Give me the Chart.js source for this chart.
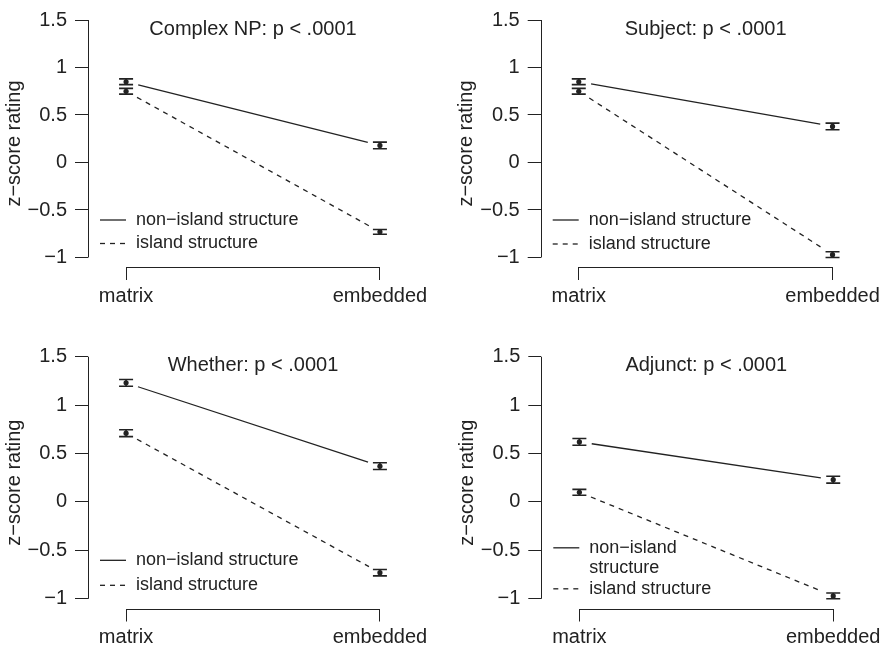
<!DOCTYPE html>
<html>
<head>
<meta charset="utf-8">
<script src="https://cdn.jsdelivr.net/npm/chart.js@4.4.1/dist/chart.umd.min.js"></script>
<style>
  html, body { margin: 0; padding: 0; background: #fff; width: 887px; height: 649px; overflow: hidden; }
  .panel { position: absolute; }
</style>
</head>
<body>
<div class="panel" style="left:0;top:0"><canvas id="c0" width="443" height="320"></canvas></div>
<div class="panel" style="left:444px;top:0"><canvas id="c1" width="443" height="320"></canvas></div>
<div class="panel" style="left:0;top:320px"><canvas id="c2" width="443" height="329"></canvas></div>
<div class="panel" style="left:444px;top:320px"><canvas id="c3" width="443" height="329"></canvas></div>
<script>
// data
const categories = ['matrix', 'embedded'];
const categoryX = [1, 2];
const yTicks = [-1, -0.5, 0, 0.5, 1, 1.5];
const panelTitles = ['Complex NP: p < .0001', 'Subject: p < .0001', 'Whether: p < .0001', 'Adjunct: p < .0001'];
const seriesLabels = ['non\u2212island structure', 'island structure'];

// one pair [matrix, embedded] per panel
const nonIsland   = [[0.85, 0.18], [0.85, 0.38], [1.23, 0.37], [0.62, 0.23]];
const nonIslandSE = [[0.03, 0.035], [0.03, 0.035], [0.035, 0.035], [0.035, 0.035]];
const island      = [[0.75, -0.73], [0.75, -0.97], [0.71, -0.73], [0.10, -0.97]];
const islandSE    = [[0.03, 0.025], [0.03, 0.03], [0.035, 0.033], [0.03, 0.03]];

// the last panel wraps the first legend entry
const legendText = [
  [['non\u2212island structure'], ['island structure']],
  [['non\u2212island structure'], ['island structure']],
  [['non\u2212island structure'], ['island structure']],
  [['non\u2212island', 'structure'], ['island structure']]
];

const ink = '#222';
const fontFamily = '"Liberation Sans", Arial, Helvetica, sans-serif';
Chart.defaults.font.family = fontFamily;
Chart.defaults.font.size = 20;
Chart.defaults.color = ink;

// where each plot region sits inside its canvas
const boxes = [
  { padLeft: 0,   top: 15,   bottom: 267,   right: 418,   legendRows: [-37.5, -14] },
  { padLeft: 8.7, top: 15,   bottom: 267,   right: 426.6, legendRows: [-37.5, -13.5] },
  { padLeft: 0,   top: 36.7, bottom: 288.5, right: 418,   legendRows: [-38.5, -13.5] },
  { padLeft: 9.3, top: 36.7, bottom: 288.5, right: 427.3, legendRows: [-51, -10] }
];

const minus = v => String(v).replace('-', '\u2212');

const rStyle = {
  id: 'rStyle',
  beforeDatasetsDraw(chart, args, opts) {
    const { ctx, scales: { x, y } } = chart;
    ctx.save();
    ctx.strokeStyle = ink;
    chart.data.datasets.forEach((ds, di) => {
      // error bars
      ctx.setLineDash([]);
      ctx.lineWidth = 1.6;
      ds.data.forEach(p => {
        const px = x.getPixelForValue(p.x);
        const lo = y.getPixelForValue(p.y - p.se);
        const hi = y.getPixelForValue(p.y + p.se);
        ctx.beginPath();
        ctx.moveTo(px, lo); ctx.lineTo(px, hi);
        ctx.moveTo(px - 7, lo); ctx.lineTo(px + 7, lo);
        ctx.moveTo(px - 7, hi); ctx.lineTo(px + 7, hi);
        ctx.stroke();
      });
      // connecting line with a gap at each point, like type = "b"
      const pts = chart.getDatasetMeta(di).data;
      const gap = 12.5;
      ctx.lineWidth = 1.3;
      ctx.setLineDash(ds.borderDash || []);
      for (let i = 0; i < pts.length - 1; i++) {
        const a = pts[i], b = pts[i + 1];
        const len = Math.hypot(b.x - a.x, b.y - a.y);
        const ux = (b.x - a.x) / len, uy = (b.y - a.y) / len;
        ctx.beginPath();
        ctx.moveTo(a.x + ux * gap, a.y + uy * gap);
        ctx.lineTo(b.x - ux * gap, b.y - uy * gap);
        ctx.stroke();
      }
    });
    ctx.restore();
  },
  afterDraw(chart, args, opts) {
    const { ctx, chartArea, scales: { x, y } } = chart;
    ctx.save();
    ctx.strokeStyle = ink;
    ctx.fillStyle = ink;
    ctx.lineWidth = 1;
    ctx.setLineDash([]);

    // detached axis lines
    const ax = Math.round(chartArea.left) + 0.5;
    const ay = Math.round(chartArea.bottom) + 0.5;
    ctx.beginPath();
    ctx.moveTo(ax, y.getPixelForValue(yTicks[0]));
    ctx.lineTo(ax, y.getPixelForValue(yTicks[yTicks.length - 1]));
    ctx.moveTo(x.getPixelForValue(categoryX[0]), ay);
    ctx.lineTo(x.getPixelForValue(categoryX[categoryX.length - 1]), ay);
    ctx.stroke();

    // panel title
    ctx.font = '20px ' + fontFamily;
    ctx.textAlign = 'center';
    ctx.textBaseline = 'alphabetic';
    const cx = (x.getPixelForValue(categoryX[0]) + x.getPixelForValue(categoryX[1])) / 2;
    ctx.fillText(opts.title, cx, y.getPixelForValue(1.5) + 14.5);

    // legend, bottom left
    ctx.font = '18px ' + fontFamily;
    ctx.textAlign = 'left';
    ctx.textBaseline = 'middle';
    const base = y.getPixelForValue(-1);
    chart.data.datasets.forEach((ds, di) => {
      const rowY = base + opts.legendRows[di];
      ctx.lineWidth = 1.3;
      ctx.setLineDash(ds.borderDash || []);
      ctx.beginPath();
      ctx.moveTo(chartArea.left + 12, rowY);
      ctx.lineTo(chartArea.left + 38, rowY);
      ctx.stroke();
      opts.legend[di].forEach((line, k) => {
        ctx.fillText(line, chartArea.left + 48, rowY + k * 20);
      });
    });
    ctx.restore();
  }
};

function series(values, errs) {
  return categoryX.map((cx, i) => ({ x: cx, y: values[i], se: errs[i] }));
}

boxes.forEach((box, i) => {
  const canvas = document.getElementById('c' + i);
  new Chart(canvas, {
    type: 'line',
    data: {
      datasets: [
        { label: seriesLabels[0], data: series(nonIsland[i], nonIslandSE[i]), borderDash: [] },
        { label: seriesLabels[1], data: series(island[i], islandSE[i]), borderDash: [5, 5] }
      ]
    },
    options: {
      responsive: false,
      animation: false,
      devicePixelRatio: 1,
      showLine: false,
      elements: {
        point: { radius: 2.6, backgroundColor: ink, borderWidth: 0 }
      },
      layout: {
        padding: { left: box.padLeft, top: box.top, right: canvas.width - box.right, bottom: 0 }
      },
      plugins: {
        legend: { display: false },
        tooltip: { enabled: false },
        rStyle: { title: panelTitles[i], legend: legendText[i], legendRows: box.legendRows }
      },
      scales: {
        x: {
          type: 'linear',
          bounds: 'data',
          min: 0.85,
          max: 2.15,
          afterBuildTicks: s => { s.ticks = categoryX.map(v => ({ value: v })); },
          afterFit: s => { s.height = canvas.height - box.bottom; },
          grid: { drawOnChartArea: false, tickLength: 13, color: ink, lineWidth: 1 },
          border: { display: false },
          ticks: {
            padding: 4,
            maxRotation: 0,
            autoSkip: false,
            color: ink,
            font: { size: 20 },
            callback: v => categories[categoryX.indexOf(v)]
          }
        },
        y: {
          type: 'linear',
          bounds: 'data',
          min: -1.1,
          max: 1.5,
          afterBuildTicks: s => { s.ticks = yTicks.map(v => ({ value: v })); },
          afterFit: s => { s.width = 88; },
          grid: { drawOnChartArea: false, tickLength: 13, color: ink, lineWidth: 1 },
          border: { display: false },
          ticks: { padding: 8, color: ink, font: { size: 20 }, callback: v => minus(v) },
          title: {
            display: true,
            text: 'z\u2212score rating',
            color: ink,
            font: { size: 20 },
            padding: { top: 2, bottom: 0 }
          }
        }
      }
    },
    plugins: [rStyle]
  });
});
</script>
</body>
</html>
